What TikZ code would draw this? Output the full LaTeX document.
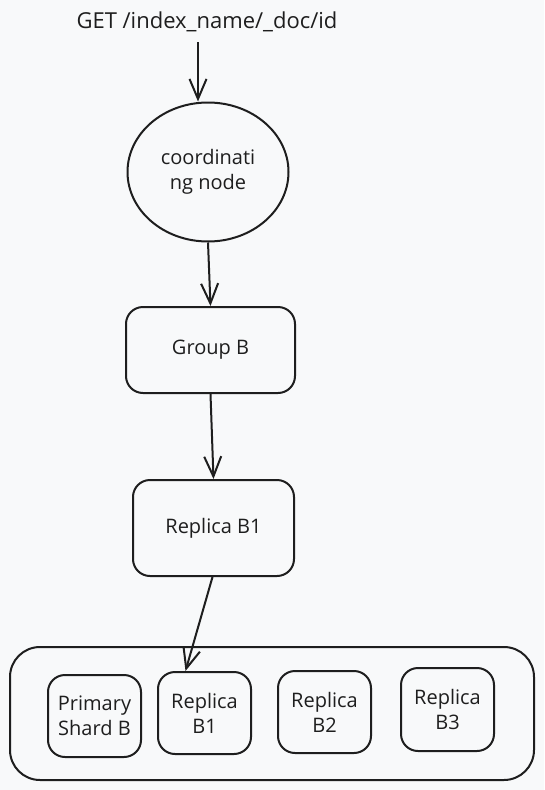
\documentclass[tikz,border=0pt]{standalone}
\usepackage{fontspec}
\setmainfont{Open Sans}
\usetikzlibrary{shapes.geometric,arrows.meta}
\definecolor{bgcol}{RGB}{248,249,250}
\definecolor{ink}{RGB}{30,30,30}
\tikzset{
  box/.style={draw=ink, text=ink, line width=2pt, rounded corners=17pt,
    align=center, inner sep=0pt, font=\fontsize{20}{25}\selectfont},
  link/.style={draw=ink, line width=2pt,
    -{Straight Barb[length=20pt,width=17pt,line width=2pt]}},
}
\begin{document}
\begin{tikzpicture}[x=1pt,y=-1pt]
  \fill[bgcol] (0,0) rectangle (544,790);
  \useasboundingbox (0,0) rectangle (544,790);
  % request and coordinating node
  \node[text=ink, font=\fontsize{22}{26}\selectfont] (req) at (207,22) {GET /index\_name/\_doc/id};
  \coordinate (reqfoot) at (198,42);
  \node[box, ellipse, minimum width=161pt, minimum height=139pt] (coord) at (208,172) {coordinati\\ng node};
  % group and replica
  \node[box, minimum width=169pt, minimum height=86pt] (groupb) at (210.5,350) {Group B};
  \node[box, minimum width=161pt, minimum height=96pt] (replica) at (213.5,528) {Replica B1};
  % shard container
  \node[box, rounded corners=30pt, minimum width=524pt, minimum height=133pt] (shards) at (272,713.5) {};
  \node[box, minimum width=93pt, minimum height=82pt] (primary) at (94.5,716) {Primary\\Shard B};
  \node[box, minimum width=93pt, minimum height=82pt] (rb1) at (204.5,713) {Replica\\B1};
  \node[box, minimum width=93pt, minimum height=82pt] (rb2) at (324.5,712) {Replica\\B2};
  \node[box, minimum width=93pt, minimum height=83pt] (rb3) at (447.5,709.5) {Replica\\B3};
  % arrows
  \draw[link] (reqfoot) -- (reqfoot |- coord.north);
  \draw[link] (coord.south) -- (groupb.north);
  \draw[link] (groupb.south) -- (replica.north);
  \draw[link] ([xshift=-1pt]replica.south) -- ([xshift=-19pt]rb1.north);
\end{tikzpicture}
\end{document}
